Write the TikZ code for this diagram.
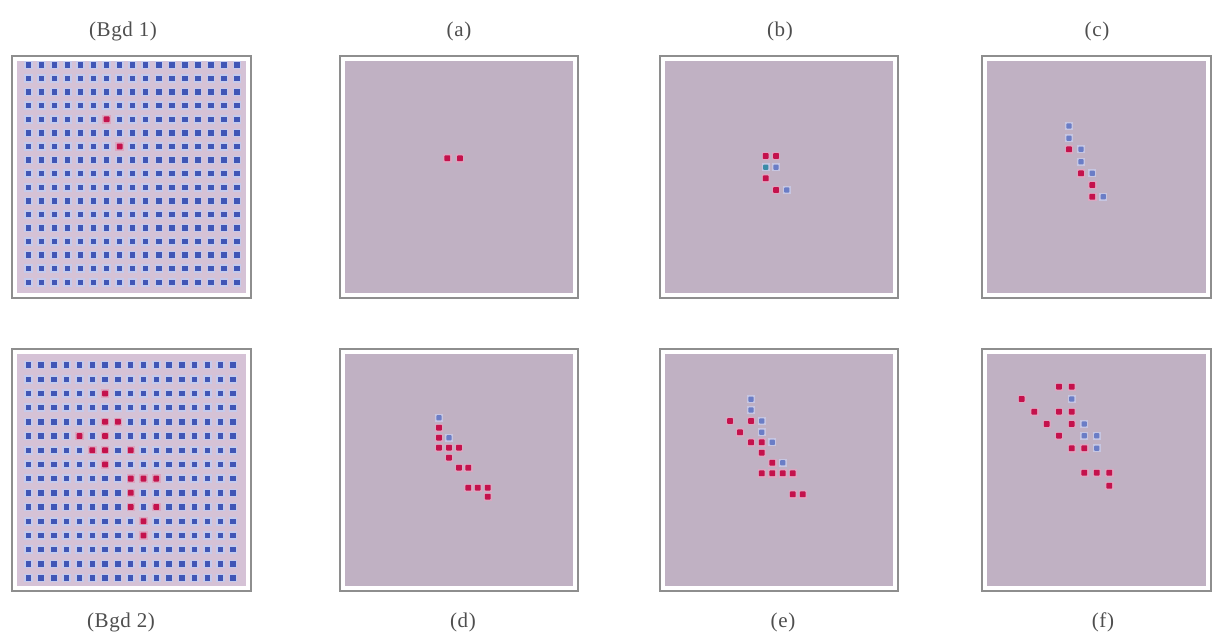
\documentclass[tikz,border=0pt]{standalone}
\usepackage{fontspec}
\setmainfont{Liberation Serif}
\definecolor{framegray}{HTML}{8E8E8E}
\definecolor{panelfill}{HTML}{C0B1C3}
\definecolor{bgdfill}{HTML}{D5C2D6}
\definecolor{gridblue}{HTML}{4056B6}
\definecolor{gridhalo}{HTML}{C4CAEC}
\definecolor{dotred}{HTML}{C4124C}
\definecolor{redhalo}{HTML}{DCA6C0}
\definecolor{dotblue}{HTML}{6A7DC6}
\definecolor{bluehalo}{HTML}{C6C6E2}
\definecolor{dotteal}{HTML}{3A8CA8}
\definecolor{labelgray}{HTML}{4E4E4E}
\tikzset{
  panelframe/.style={draw=framegray, line width=1.4pt, fill=white},
  panelinner/.style={fill=panelfill},
  bgdinner/.style={fill=bgdfill},
  lbl/.style={font=\fontsize{21}{24}\selectfont\addfontfeature{LetterSpace=3}, text=labelgray, inner sep=0pt}
}
\newcommand\GridDot[2]{\fill[gridhalo] ({#1-4.3},{#2-4.3}) rectangle ++(8.6,8.6);
  \fill[gridblue] ({#1-2.7},{#2-2.7}) rectangle ++(5.4,5.4);}
\newcommand\RedDot[2]{\fill[redhalo] ({#1-4.2},{#2-4.2}) rectangle ++(8.4,8.4);
  \fill[dotred,rounded corners=0.8pt] ({#1-2.9},{#2-2.9}) rectangle ++(5.8,5.8);}
\newcommand\BlueDot[2]{\fill[bluehalo] ({#1-4},{#2-4}) rectangle ++(8,8);
  \fill[dotblue,rounded corners=0.8pt] ({#1-2.6},{#2-2.6}) rectangle ++(5.2,5.2);}
\newcommand\TealDot[2]{\fill[bluehalo] ({#1-4},{#2-4}) rectangle ++(8,8);
  \fill[dotteal,rounded corners=0.8pt] ({#1-2.6},{#2-2.6}) rectangle ++(5.2,5.2);}
\newcommand\Panel[4]{\draw[panelframe] (#1,#2) rectangle (#3,#4);
  \fill[panelinner] ({#1+5},{#2+5}) rectangle ({#3-5},{#4-5});}
\begin{document}
\begin{tikzpicture}[x=1pt,y=-1pt]
\useasboundingbox (0,0) rectangle (1213,634);
\fill[white] (0,0) rectangle (1213,634);

% ---------- Bgd 1 ----------
\draw[panelframe] (12,56) rectangle (251,298);
\fill[bgdinner] (17,61) rectangle (246,293);
\foreach \i in {0,...,16}{\foreach \j in {0,...,16}{
  \GridDot{28.3+13.05*\i}{65+13.58*\j}}}
\RedDot{28.3+13.05*6}{65+13.58*4}
\RedDot{28.3+13.05*7}{65+13.58*6}

% ---------- Bgd 2 ----------
\draw[panelframe] (12,349) rectangle (251,591);
\fill[bgdinner] (17,354) rectangle (246,586);
\foreach \i in {0,...,16}{\foreach \j in {0,...,15}{
  \GridDot{28.3+12.8*\i}{365+14.2*\j}}}
\foreach \c/\r in {6/2, 6/4, 7/4, 4/5, 6/5, 5/6, 6/6, 8/6, 6/7, 8/8, 9/8, 10/8, 8/9, 8/10, 10/10, 9/11, 9/12}{
  \RedDot{28.3+12.8*\c}{365+14.2*\r}}

% ---------- panels ----------
\Panel{340}{56}{578}{298}
\Panel{660}{56}{898}{298}
\Panel{982}{56}{1211}{298}
\Panel{340}{349}{578}{591}
\Panel{660}{349}{898}{591}
\Panel{982}{349}{1211}{591}

% (a)
\RedDot{447.3}{158.3}\RedDot{460}{158.3}

% (b)
\RedDot{765.7}{156}\RedDot{776}{156}
\TealDot{765.7}{167.3}\BlueDot{776}{167.3}
\RedDot{765.7}{178.3}
\RedDot{776}{190}\BlueDot{786.7}{190}

% (c)
\BlueDot{1069}{126}
\BlueDot{1069}{138.3}
\RedDot{1069}{149.3}\BlueDot{1081}{149.3}
\BlueDot{1081}{161.7}
\RedDot{1081}{173.3}\BlueDot{1092.3}{173.3}
\RedDot{1092.3}{185}
\RedDot{1092.3}{196.7}\BlueDot{1103.3}{196.7}

% (d)
\BlueDot{439}{417.7}
\RedDot{439}{427.7}
\RedDot{439}{437.7}\BlueDot{449}{437.7}
\RedDot{439}{447.7}\RedDot{449}{447.7}\RedDot{459}{447.7}
\RedDot{449}{457.7}
\RedDot{459}{467.7}\RedDot{468.3}{467.7}
\RedDot{468.3}{487.7}\RedDot{477.7}{487.7}\RedDot{487.7}{487.7}
\RedDot{487.7}{496.7}

% (e)
\BlueDot{751}{399.3}
\BlueDot{751}{410}
\RedDot{730}{421}\RedDot{751}{421}\BlueDot{761.7}{421}
\RedDot{740}{432.3}\BlueDot{761.7}{432.3}
\RedDot{751}{442.3}\RedDot{761.7}{442.3}\BlueDot{772.3}{442.3}
\RedDot{761.7}{452.7}
\RedDot{772.3}{462.7}\BlueDot{782.7}{462.7}
\RedDot{761.7}{473.3}\RedDot{772.3}{473.3}\RedDot{782.7}{473.3}\RedDot{792.7}{473.3}
\RedDot{792.7}{494.3}\RedDot{802.7}{494.3}

% (f)
\RedDot{1059}{386.7}\RedDot{1071.7}{386.7}
\RedDot{1021.7}{399}\BlueDot{1071.7}{399}
\RedDot{1034.3}{411.7}\RedDot{1059}{411.7}\RedDot{1071.7}{411.7}
\RedDot{1046.7}{424}\RedDot{1071.7}{424}\BlueDot{1084.3}{424}
\RedDot{1059}{435.7}\BlueDot{1084.3}{435.7}\BlueDot{1096.7}{435.7}
\RedDot{1071.7}{448.3}\RedDot{1084.3}{448.3}\BlueDot{1096.7}{448.3}
\RedDot{1084.3}{472.7}\RedDot{1096.7}{472.7}\RedDot{1109.3}{472.7}
\RedDot{1109.3}{485.7}

% ---------- labels ----------
\node[lbl] (lbgdone) at (123,31) {(Bgd 1)};
\node[lbl] (la) at (459,31) {(a)};
\node[lbl] (lb) at (780,31) {(b)};
\node[lbl] (lc) at (1097,31) {(c)};
\node[lbl] (lbgdtwo) at (121,622) {(Bgd 2)};
\node[lbl] (ld) at (463,622) {(d)};
\node[lbl] (le) at (783,622) {(e)};
\node[lbl] (lf) at (1103,622) {(f)};
\end{tikzpicture}
\end{document}
